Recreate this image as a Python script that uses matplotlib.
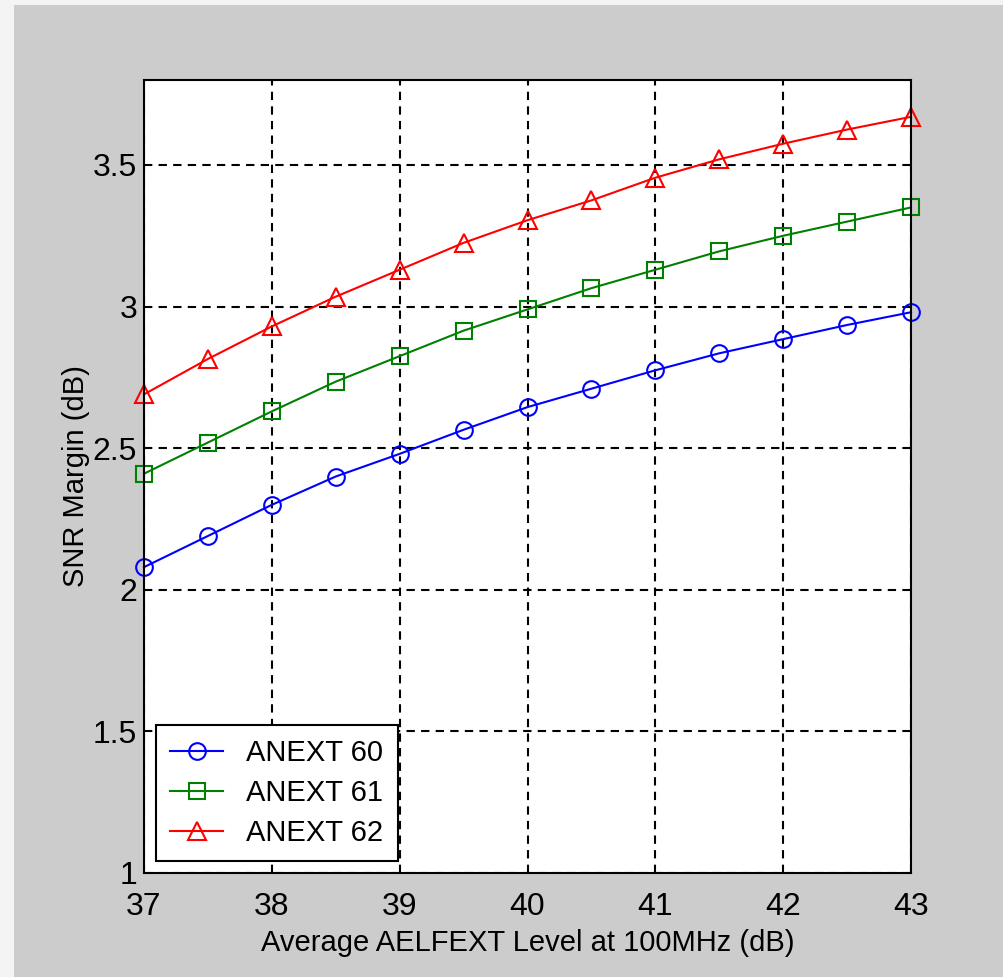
import numpy as np
import matplotlib
matplotlib.use('Agg')
import matplotlib.pyplot as plt
from matplotlib.patches import Rectangle

# data
x = [37, 37.5, 38, 38.5, 39, 39.5, 40, 40.5, 41, 41.5, 42, 42.5, 43]
anext60 = [2.08, 2.19, 2.30, 2.40, 2.48, 2.565, 2.645, 2.71, 2.775, 2.835, 2.885, 2.935, 2.98]
anext61 = [2.41, 2.52, 2.63, 2.735, 2.825, 2.915, 2.99, 3.065, 3.13, 3.195, 3.25, 3.30, 3.35]
anext62 = [2.69, 2.815, 2.93, 3.035, 3.13, 3.225, 3.305, 3.375, 3.455, 3.52, 3.575, 3.625, 3.67]
xticks = [37, 38, 39, 40, 41, 42, 43]
yticks = [1, 1.5, 2, 2.5, 3, 3.5]

plt.rcParams['font.family'] = ['Liberation Sans Narrow', 'Liberation Sans', 'DejaVu Sans']

fig = plt.figure(figsize=(10.04, 9.77), dpi=100)
fig.patch.set_facecolor('#f4f4f4')
# gray window background
fig.add_artist(Rectangle((14 / 1004, 0), 1 - 14 / 1004, 1 - 5 / 977,
                         transform=fig.transFigure, facecolor='#cccccc',
                         edgecolor='none', zorder=0))

ax = fig.add_axes([144 / 1004, 1 - 873 / 977, 767 / 1004, 793 / 977])
ax.set_facecolor('white')

ax.plot(x, anext60, color='#0000ff', marker='o', mfc='none', mec='#0000ff',
        markersize=12, mew=1.5, lw=1.5, label='ANEXT 60', clip_on=False)
ax.plot(x, anext61, color='#008000', marker='s', mfc='none', mec='#008000',
        markersize=12, mew=1.5, lw=1.5, label='ANEXT 61', clip_on=False)
ax.plot(x, anext62, color='#ff0000', marker='^', mfc='none', mec='#ff0000',
        markersize=13, mew=1.5, lw=1.5, label='ANEXT 62', clip_on=False)

ax.set_xlim(37, 43)
ax.set_ylim(1, 3.8)
ax.set_xticks(xticks)
ax.set_yticks(yticks)
ax.set_xticklabels([str(t) for t in xticks])
ax.set_yticklabels(['1', '1.5', '2', '2.5', '3', '3.5'])
ax.grid(True, color='black', linestyle=(0, (4, 3)), linewidth=1.5)
ax.tick_params(direction='in', length=6, width=1.2, labelsize=23)
ax.tick_params(axis='x', pad=14)
ax.tick_params(axis='y', pad=5)
for s in ax.spines.values():
    s.set_linewidth(1.5)

ax.set_xlabel('Average AELFEXT Level at 100MHz (dB)', fontsize=21, labelpad=5)
ax.set_ylabel('SNR Margin (dB)', fontsize=21, labelpad=2)

leg = ax.legend(loc='lower left', fontsize=21, fancybox=False, framealpha=1,
                edgecolor='black', borderaxespad=0.4, handlelength=1.8,
                handletextpad=0.8, labelspacing=0.4, borderpad=0.5)
leg.get_frame().set_linewidth(1.5)

fig.savefig('out.png', dpi=100, facecolor=fig.get_facecolor())
